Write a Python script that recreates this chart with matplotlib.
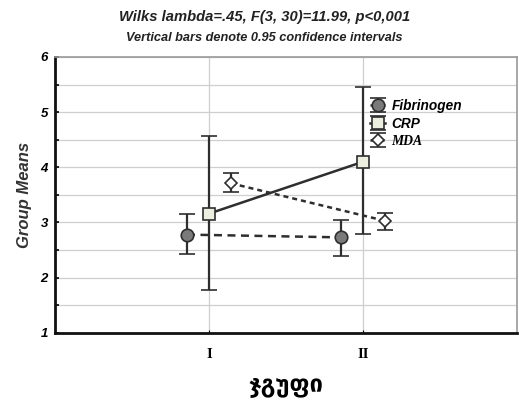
import matplotlib
matplotlib.use("Agg")
import matplotlib.pyplot as plt
import numpy as np

# Group means with 0.95 confidence limits
groups = ["I", "II"]
series = ["Fibrinogen", "CRP", "MDA"]
fib_mean = [2.78, 2.73]
fib_low = [2.43, 2.40]
fib_high = [3.15, 3.05]
crp_mean = [3.16, 4.10]
crp_low = [1.77, 2.80]
crp_high = [4.57, 5.45]
mda_mean = [3.71, 3.03]
mda_low = [3.55, 2.87]
mda_high = [3.89, 3.18]

fig = plt.figure(figsize=(5.19, 4.01), dpi=100)
ax = fig.add_axes([0.106, 0.170, 0.890, 0.688])

x = np.arange(1, len(groups) + 1)
dark = "#2e2e2e"

styles = [
    (series[0], fib_mean, fib_low, fib_high, -0.143,
     dict(marker="o", markersize=9, markerfacecolor="#7a7a7a", linestyle=(0, (3.2, 2.2)))),
    (series[1], crp_mean, crp_low, crp_high, 0.0,
     dict(marker="s", markersize=9, markerfacecolor="#eceee0", linestyle="-")),
    (series[2], mda_mean, mda_low, mda_high, 0.143,
     dict(marker="D", markersize=6, markerfacecolor="white", linestyle=(0, (2.0, 1.6)))),
]

handles = []
for name, m, lo, hi, off, st in styles:
    m = np.array(m); lo = np.array(lo); hi = np.array(hi)
    h = ax.errorbar(x + off, m, yerr=[m - lo, hi - m], color=dark,
                    linewidth=1.8, elinewidth=1.6, capsize=6, capthick=1.6,
                    markeredgecolor=dark, markeredgewidth=1.2, label=name,
                    zorder=3, **st)
    handles.append(h)

ax.set_xlim(0, 3)
ax.set_ylim(1, 6)
ax.set_xticks(x)
ax.set_xticklabels(groups, fontfamily="Liberation Serif", fontweight="bold", fontsize=10.5)
ax.set_yticks(np.arange(1, 7))
ax.set_yticks(np.arange(1.5, 6, 1), minor=True)
ax.set_yticklabels([str(v) for v in range(1, 7)], fontfamily="Liberation Sans",
                   fontweight="bold", fontstyle="italic", fontsize=9.5)
ax.tick_params(axis="y", which="both", direction="in", length=3, width=1.2, pad=5)
ax.tick_params(axis="x", direction="in", length=2, pad=11)

ax.grid(True, which="both", color="#cfcfcf", linewidth=0.9)
ax.set_axisbelow(True)

for s in ["left", "bottom"]:
    ax.spines[s].set_linewidth(2.0)
    ax.spines[s].set_color("#111111")
for s in ["top", "right"]:
    ax.spines[s].set_linewidth(1.2)
    ax.spines[s].set_color("#9a9a9a")

ax.set_ylabel("Group Means", fontfamily="Liberation Sans", fontweight="bold",
              fontstyle="italic", fontsize=12, labelpad=6, color="#333333")
ax.set_xlabel("ჯგუფი", fontfamily="DejaVu Sans", fontweight="bold", fontsize=17,
              labelpad=9)

fig.text(0.51, 0.958, "Wilks lambda=.45, F(3, 30)=11.99, p<0,001", ha="center",
         va="center", fontfamily="Liberation Sans", fontweight="bold",
         fontstyle="italic", fontsize=10.6, color="#222222")
fig.text(0.51, 0.906, "Vertical bars denote 0.95 confidence intervals", ha="center",
         va="center", fontfamily="Liberation Sans", fontweight="bold",
         fontstyle="italic", fontsize=9.2, color="#222222")

leg = ax.legend(handles=handles, loc="upper left", bbox_to_anchor=(0.670, 0.868),
                frameon=False, handlelength=1.1, handletextpad=0.45,
                labelspacing=0.28, borderaxespad=0)
for t, fam in zip(leg.get_texts(), ["Liberation Sans", "Liberation Sans", "Liberation Serif"]):
    t.set_fontfamily(fam)
    t.set_fontweight("bold")
    t.set_fontstyle("italic")
    t.set_fontsize(9.8)

fig.savefig("out.png", dpi=100)
